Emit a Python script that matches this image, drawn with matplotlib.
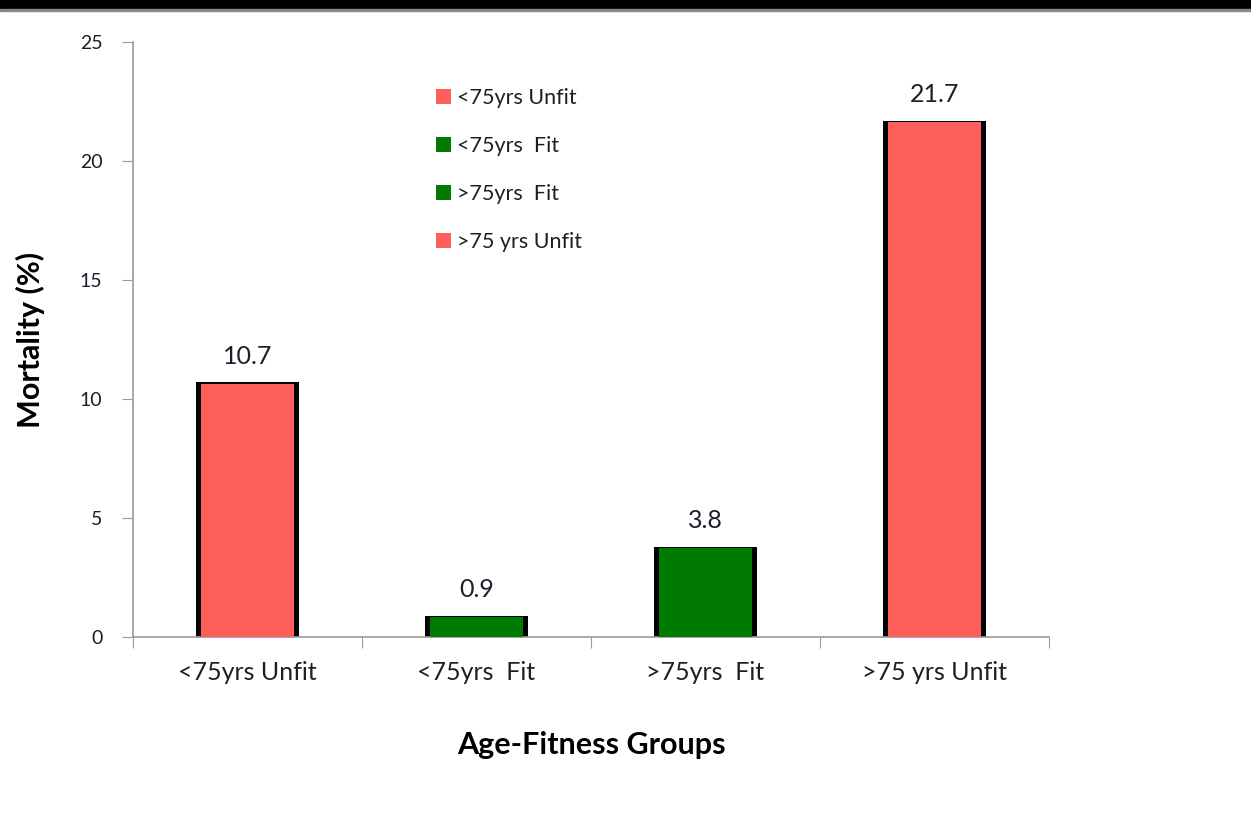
import matplotlib
matplotlib.use("Agg")
import matplotlib.pyplot as plt
from matplotlib.patches import Patch, Rectangle

categories = ["<75yrs Unfit", "<75yrs  Fit", ">75yrs  Fit", ">75 yrs Unfit"]
mortality = [10.7, 0.9, 3.8, 21.7]
colors = ["#FF5F5A", "#007A00", "#007A00", "#FF5F5A"]
yticks = [0, 5, 10, 15, 20, 25]

plt.rcParams['font.family'] = ['Lato', 'DejaVu Sans']
txt = "#1e1e2a"
axc = "#9a9a9a"

fig = plt.figure(figsize=(12.51, 8.17), dpi=100)
fig.patches.append(Rectangle((0, 1 - 9/817), 1, 9/817, transform=fig.transFigure,
                             color="black", zorder=0))
fig.patches.append(Rectangle((0, 1 - 11/817), 1, 2/817, transform=fig.transFigure,
                             color="#888888", zorder=0))
ax = fig.add_axes([133/1251, 1 - 637/817, (1049 - 133)/1251, (637 - 42)/817])

x = list(range(len(categories)))
ax.bar(x, mortality, width=0.45, color="black", zorder=2)
ax.bar(x, [v - 0.06 for v in mortality], width=0.405, color=colors, zorder=3)

for xi, v in zip(x, mortality):
    ax.text(xi, v + 0.6, f"{v}", ha="center", va="bottom", fontsize=18, color=txt)

ax.set_xlim(-0.5, len(categories) - 0.5)
ax.set_ylim(0, 25)
ax.set_yticks(yticks)
ax.set_yticklabels([str(t) for t in yticks], fontsize=14, color=txt)
ax.set_xticks([i - 0.5 for i in range(len(categories) + 1)])
ax.set_xticklabels([])
ax.set_xticks(x, minor=True)
ax.set_xticklabels(categories, minor=True, fontsize=18, color=txt)
ax.tick_params(axis="x", which="minor", length=0, pad=17)
ax.tick_params(axis="x", which="major", length=8, color=axc, direction="out")
ax.tick_params(axis="y", length=8, color=axc, direction="out", pad=14)
for s in ["top", "right"]:
    ax.spines[s].set_visible(False)
for s in ["left", "bottom"]:
    ax.spines[s].set_color(axc)
    ax.spines[s].set_linewidth(1.2)

ax.set_ylabel("Mortality (%)", fontsize=22, fontweight="bold", color="black", labelpad=25)
ax.set_xlabel("Age-Fitness Groups", fontsize=22, fontweight="bold", color="black", labelpad=34)

handles = [Patch(facecolor=c, edgecolor="none") for c in colors]
ax.legend(handles, categories, loc="upper left", bbox_to_anchor=(0.31, 0.955),
          frameon=False, fontsize=15.5, handlelength=0.7, handleheight=0.7,
          handletextpad=0.25, labelspacing=1.3, labelcolor=txt)

fig.savefig("out.png", dpi=100, facecolor="white")
